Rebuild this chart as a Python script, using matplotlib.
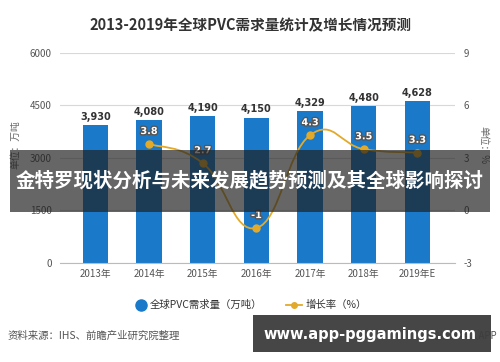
import matplotlib
matplotlib.use("Agg")
import matplotlib.pyplot as plt
from matplotlib.path import Path
from matplotlib.patches import PathPatch, Rectangle
import matplotlib.patheffects as pe
import numpy as np

plt.rcParams['font.family'] = ['Noto Sans CJK SC', 'DejaVu Sans']
plt.rcParams['axes.unicode_minus'] = False

years = ["2013年", "2014年", "2015年", "2016年", "2017年", "2018年", "2019年E"]
demand = [3930, 4080, 4190, 4150, 4329, 4480, 4628]
growth_years_idx = [1, 2, 3, 4, 5, 6]
growth = [3.8, 2.7, -1, 4.3, 3.5, 3.3]
growth_labels = ["3.8", "2.7", "-1", "4.3", "3.5", "3.3"]

bar_color = "#1a7ac9"
line_color = "#e3aa2a"

fig = plt.figure(figsize=(5, 3.62), dpi=100)
ax = fig.add_axes([0.12, 0.2735, 0.79, 0.5805])
ax2 = ax.twinx()

x = np.arange(len(years))
ax.bar(x, demand, width=0.47, color=bar_color, zorder=2)
for xi, v in zip(x, demand):
    ax.text(xi, v + 90, f"{v:,}", ha="center", va="bottom", fontsize=7,
            fontweight="bold", color="#333333", family=['DejaVu Sans'])

ax.set_ylim(0, 6000)
ax.set_yticks([0, 1500, 3000, 4500, 6000])
ax.set_xlim(-0.66, 6.7)
ax.set_xticks(x)
ax.set_xticklabels(years, fontsize=7, color="#555555")
ax.tick_params(axis="y", labelsize=7, colors="#555555", length=0, pad=6)
ax.tick_params(axis="x", length=0, pad=4)
ax.grid(axis="y", color="#d8d8d8", linewidth=0.8, zorder=0)
for s in ["top", "right", "left"]:
    ax.spines[s].set_visible(False)
ax.spines["bottom"].set_color("#bbbbbb")

ax2.set_ylim(-3, 9)
ax2.set_yticks([-3, 0, 3, 6, 9])
ax2.tick_params(axis="y", labelsize=7, colors="#555555", length=0, pad=6)
for s in ["top", "right", "left", "bottom"]:
    ax2.spines[s].set_visible(False)

# smooth line via bezier segments
gx = np.array(growth_years_idx, dtype=float)
gy = np.array(growth, dtype=float)
verts = [(gx[0], gy[0])]
codes = [Path.MOVETO]
t = 0.22
for i in range(len(gx) - 1):
    p0 = (gx[i - 1], gy[i - 1]) if i > 0 else (gx[i], gy[i])
    p1 = (gx[i], gy[i])
    p2 = (gx[i + 1], gy[i + 1])
    p3 = (gx[i + 2], gy[i + 2]) if i + 2 < len(gx) else p2
    c1 = (p1[0] + (p2[0] - p0[0]) * t, p1[1] + (p2[1] - p0[1]) * t)
    c2 = (p2[0] - (p3[0] - p1[0]) * t, p2[1] - (p3[1] - p1[1]) * t)
    verts += [c1, c2, p2]
    codes += [Path.CURVE4] * 3
ax2.add_patch(PathPatch(Path(verts, codes), fill=False, edgecolor=line_color,
                        linewidth=1.3, zorder=3))
ax2.plot(gx, gy, "o", color=line_color, markersize=5, zorder=4)
for xi, v, lab in zip(gx, gy, growth_labels):
    ax2.text(xi, v + 0.45, lab, ha="center", va="bottom", fontsize=7,
             fontweight="bold", color="white", family=['DejaVu Sans'],
             path_effects=[pe.withStroke(linewidth=2, foreground="#555555")], zorder=5)

# title
fig.text(0.5, 0.93, "2013-2019年全球PVC需求量统计及增长情况预测", ha="center", va="center",
         fontsize=10.5, fontweight="bold", color="#333333")

# axis unit labels
fig.text(0.03, 0.6, "单位：万吨", rotation=90, ha="center", va="center", fontsize=7, color="#666666")
fig.text(0.967, 0.6, "单位：%", rotation=270, ha="center", va="center", fontsize=7, color="#666666")

# legend
fig.lines.append(plt.Line2D([0.282], [0.157], marker="o", markersize=8, color=bar_color,
                            transform=fig.transFigure))
fig.text(0.3, 0.157, "全球PVC需求量（万吨）", ha="left", va="center", fontsize=7.5, color="#333333")
fig.lines.append(plt.Line2D([0.572, 0.604], [0.157, 0.157], color=line_color, linewidth=1.3,
                            transform=fig.transFigure))
fig.lines.append(plt.Line2D([0.588], [0.157], marker="o", markersize=4, color=line_color,
                            transform=fig.transFigure))
fig.text(0.612, 0.157, "增长率（%）", ha="left", va="center", fontsize=7.5, color="#333333")

# source
fig.text(0.016, 0.072, "资料来源：IHS、前瞻产业研究院整理", ha="left", va="center",
         fontsize=7.5, color="#555555")
fig.text(0.995, 0.072, "前瞻经济学人APP", ha="right", va="center", fontsize=7, color="#555555")

# overlay banners
fig.patches.append(Rectangle((0.02, 1 - 212 / 362), 0.96, 62 / 362, transform=fig.transFigure,
                             facecolor="#1e1e1e", alpha=0.68, zorder=10))
fig.text(0.5, 1 - 181 / 362, "金特罗现状分析与未来发展趋势预测及其全球影响探讨", ha="center",
         va="center", fontsize=14, fontweight="bold", color="white", zorder=11)
fig.patches.append(Rectangle((253 / 500, 1 - 352 / 362), 238 / 500, 37 / 362,
                             transform=fig.transFigure, facecolor="#3c3c3c", alpha=0.95, zorder=10))
fig.text(370 / 500, 1 - 334 / 362, "www.app-pggamings.com", ha="center", va="center",
         fontsize=10.5, fontweight="bold", color="white", family=['DejaVu Sans'], zorder=11)

fig.savefig("out.png", dpi=100)
